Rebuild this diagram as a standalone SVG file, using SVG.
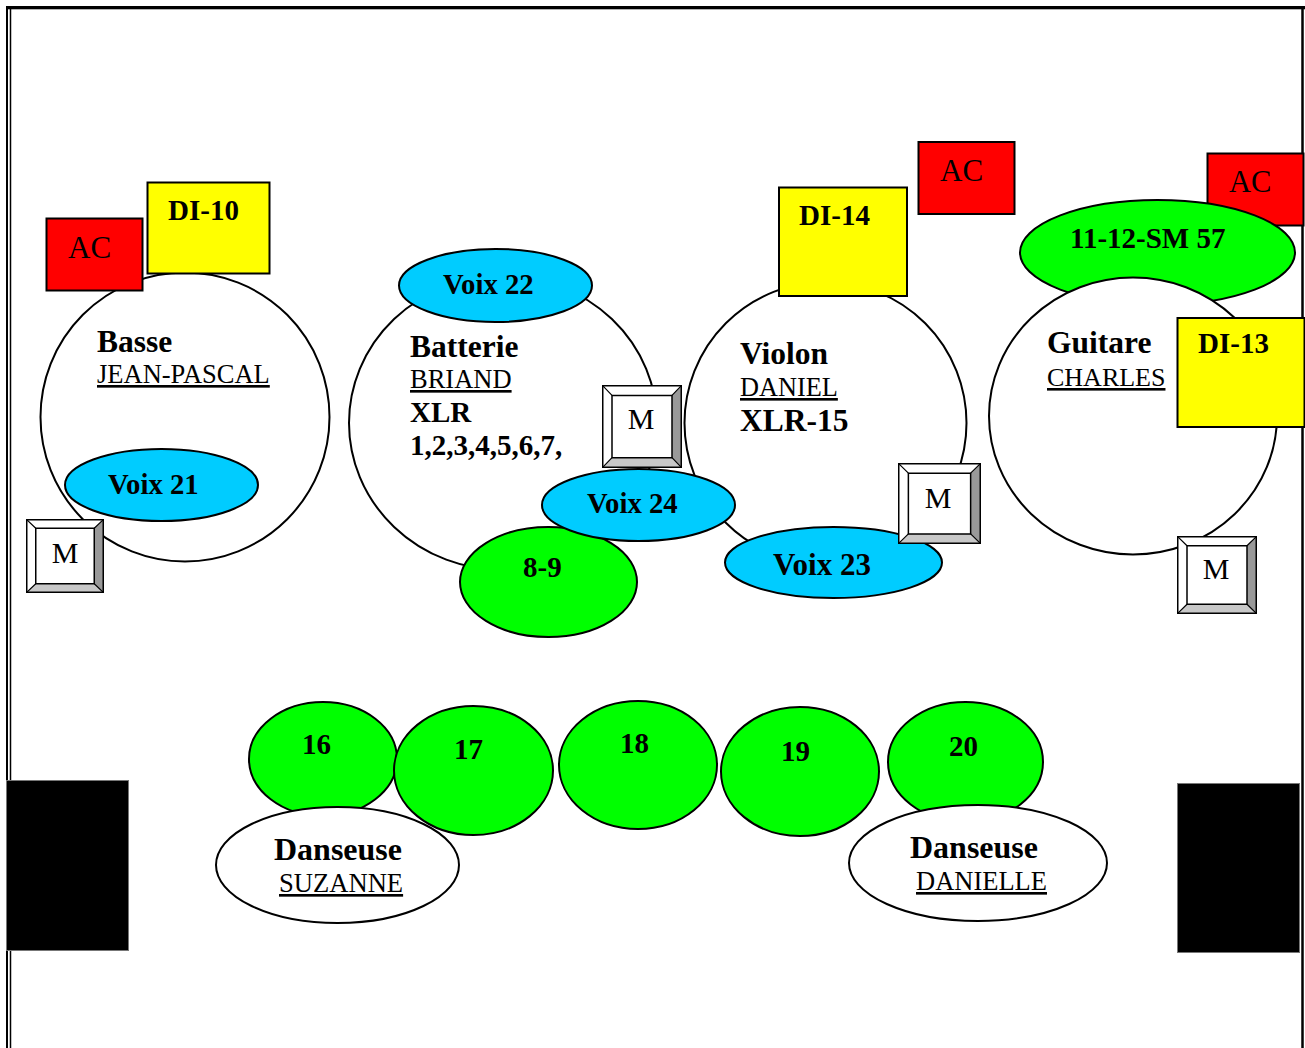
<svg xmlns="http://www.w3.org/2000/svg" xmlns:xlink="http://www.w3.org/1999/xlink" width="1305" height="1048" viewBox="0 0 1305 1048">
<style>
text{font-family:"Liberation Serif","Times New Roman",serif;fill:#000}
.b{font-weight:bold}
.u{text-decoration:underline}
.shape{stroke:#000;stroke-width:2}
.w{fill:#fff}
.red{fill:#ff0000}
.yel{fill:#ffff00}
.cy{fill:#00ccff}
.gr{fill:#00ff00}
.blk{fill:#000;stroke:#777;stroke-width:1}
.m{font-size:30px;text-anchor:middle}
</style>
<defs>
<symbol id="mkey" viewBox="0 0 80 80" preserveAspectRatio="none">
<rect x="0" y="0" width="80" height="80" fill="#fff"/>
<polygon points="80,0 80,80 70,70 70,10" fill="#999"/>
<polygon points="0,80 80,80 70,70 10,70" fill="#c8c8c8"/>
<rect x="10" y="10" width="60" height="60" fill="#fff" stroke="#000" stroke-width="1.5" vector-effect="non-scaling-stroke"/>
<path d="M0,0L10,10M80,0L70,10M0,80L10,70M80,80L70,70" stroke="#000" stroke-width="1.2" vector-effect="non-scaling-stroke"/>
<rect x="0" y="0" width="80" height="80" fill="none" stroke="#000" stroke-width="3" vector-effect="non-scaling-stroke"/>
</symbol>
</defs>

<g id="frame">
<rect x="6" y="6" width="1299" height="3.3" fill="#000"/>
<line x1="7" y1="6" x2="7" y2="1048" stroke="#000" stroke-width="2"/>
<line x1="10.5" y1="9" x2="10.5" y2="1048" stroke="#000" stroke-width="1.5"/>
<line x1="1302.5" y1="8" x2="1302.5" y2="1048" stroke="#000" stroke-width="2.5"/>
</g>

<g id="connectors"></g>

<!-- Basse -->
<g id="basse">
<circle class="shape w" cx="185" cy="417" r="144.5"/>
<text class="b" x="97" y="352" font-size="31.5">Basse</text>
<text class="u" x="97" y="383" font-size="26.5">JEAN-PASCAL</text>
</g>
<g id="voix21">
<ellipse class="shape cy" cx="161.5" cy="485" rx="96.5" ry="36"/>
<text class="b" x="108" y="494" font-size="28.7">Voix 21</text>
</g>
<g id="ac-basse">
<rect class="shape red" x="46.5" y="218.5" width="96" height="72"/>
<text x="68" y="258" font-size="31">AC</text>
</g>
<g id="di10">
<rect class="shape yel" x="147.5" y="182.5" width="122" height="91"/>
<text class="b" x="168" y="220" font-size="29">DI-10</text>
</g>
<g id="m-basse">
<use xlink:href="#mkey" x="26" y="519" width="78" height="74"/>
<text class="m" x="65" y="563">M</text>
</g>

<!-- Violon -->
<g id="violon">
<circle class="shape w" cx="825.5" cy="423" r="141"/>
<text class="b" x="740" y="364" font-size="31.5">Violon</text>
<text class="u" x="740" y="396" font-size="26.3">DANIEL</text>
<text class="b" x="740" y="431" font-size="31.5">XLR-15</text>
</g>
<g id="di14">
<rect class="shape yel" x="779" y="187.5" width="128" height="108.5"/>
<text class="b" x="799" y="225" font-size="29">DI-14</text>
</g>
<g id="ac-violon">
<rect class="shape red" x="918.5" y="142" width="96" height="72"/>
<text x="940" y="181" font-size="31">AC</text>
</g>

<!-- Batterie -->
<g id="batterie">
<ellipse class="shape w" cx="503" cy="423" rx="154" ry="147"/>
<text class="b" x="410" y="357" font-size="31.5">Batterie</text>
<text class="u" x="410" y="388" font-size="26.5">BRIAND</text>
<text class="b" x="410" y="422" font-size="29">XLR</text>
<text class="b" x="410" y="455" font-size="29">1,2,3,4,5,6,7,</text>
</g>
<g id="voix22">
<ellipse class="shape cy" cx="495.5" cy="285.5" rx="96.5" ry="36.5"/>
<text class="b" x="443" y="294" font-size="28.7">Voix 22</text>
</g>
<g id="m-batterie">
<use xlink:href="#mkey" x="602" y="385" width="80" height="83"/>
<text class="m" x="641" y="429">M</text>
</g>
<g id="ch8-9">
<ellipse class="shape gr" cx="548.5" cy="582" rx="88.5" ry="55"/>
<text class="b" x="523" y="577" font-size="29">8-9</text>
</g>
<g id="voix24">
<ellipse class="shape cy" cx="638.5" cy="505" rx="96.5" ry="36"/>
<text class="b" x="587" y="513" font-size="28.7">Voix 24</text>
</g>
<g id="voix23">
<ellipse class="shape cy" cx="833.5" cy="562.5" rx="108.5" ry="35.5"/>
<text class="b" x="773" y="575" font-size="31">Voix 23</text>
</g>
<g id="m-violon">
<use xlink:href="#mkey" x="898" y="463" width="83" height="81"/>
<text class="m" x="938" y="508">M</text>
</g>

<!-- Guitare -->
<g id="ac-guitare">
<rect class="shape red" x="1207.5" y="153.5" width="96" height="72"/>
<text x="1229" y="192" font-size="30.5">AC</text>
</g>
<g id="ch11-12">
<ellipse class="shape gr" cx="1157.5" cy="252.5" rx="137.5" ry="52.5"/>
<text class="b" x="1070" y="248" font-size="29">11-12-SM 57</text>
</g>
<g id="guitare">
<ellipse class="shape w" cx="1133" cy="416" rx="144" ry="138.5"/>
<text class="b" x="1047" y="353" font-size="31.5">Guitare</text>
<text class="u" x="1047" y="386" font-size="26">CHARLES</text>
</g>
<g id="di13">
<rect class="shape yel" x="1177.5" y="318" width="127" height="109"/>
<text class="b" x="1198" y="353" font-size="29">DI-13</text>
</g>
<g id="m-guitare">
<use xlink:href="#mkey" x="1177" y="536" width="80" height="78"/>
<text class="m" x="1216" y="579">M</text>
</g>

<!-- Front row -->
<g id="ch16">
<ellipse class="shape gr" cx="323" cy="759" rx="74" ry="57"/>
<text class="b" x="302" y="754" font-size="29">16</text>
</g>
<g id="ch17">
<ellipse class="shape gr" cx="473.5" cy="770.5" rx="79.5" ry="64.5"/>
<text class="b" x="454" y="759" font-size="29">17</text>
</g>
<g id="ch18">
<ellipse class="shape gr" cx="638" cy="765" rx="79" ry="64"/>
<text class="b" x="620" y="753" font-size="29">18</text>
</g>
<g id="ch19">
<ellipse class="shape gr" cx="800" cy="771.5" rx="79" ry="64.5"/>
<text class="b" x="781" y="761" font-size="29">19</text>
</g>
<g id="ch20">
<ellipse class="shape gr" cx="965.5" cy="762" rx="77.5" ry="60"/>
<text class="b" x="949" y="756" font-size="29">20</text>
</g>
<g id="danseuse-suzanne">
<ellipse class="shape w" cx="337.5" cy="865" rx="121.5" ry="58"/>
<text class="b" x="274" y="860" font-size="32">Danseuse</text>
<text class="u" x="279" y="892" font-size="26.6">SUZANNE</text>
</g>
<g id="danseuse-danielle">
<ellipse class="shape w" cx="978" cy="863" rx="129" ry="58"/>
<text class="b" x="910" y="858" font-size="32">Danseuse</text>
<text class="u" x="916" y="890" font-size="26.5">DANIELLE</text>
</g>

<!-- Speakers -->
<g id="speaker-left">
<rect class="blk" x="6.5" y="780.5" width="122" height="170"/>
</g>
<g id="speaker-right">
<rect class="blk" x="1177.5" y="783.5" width="122" height="169"/>
</g>
</svg>
